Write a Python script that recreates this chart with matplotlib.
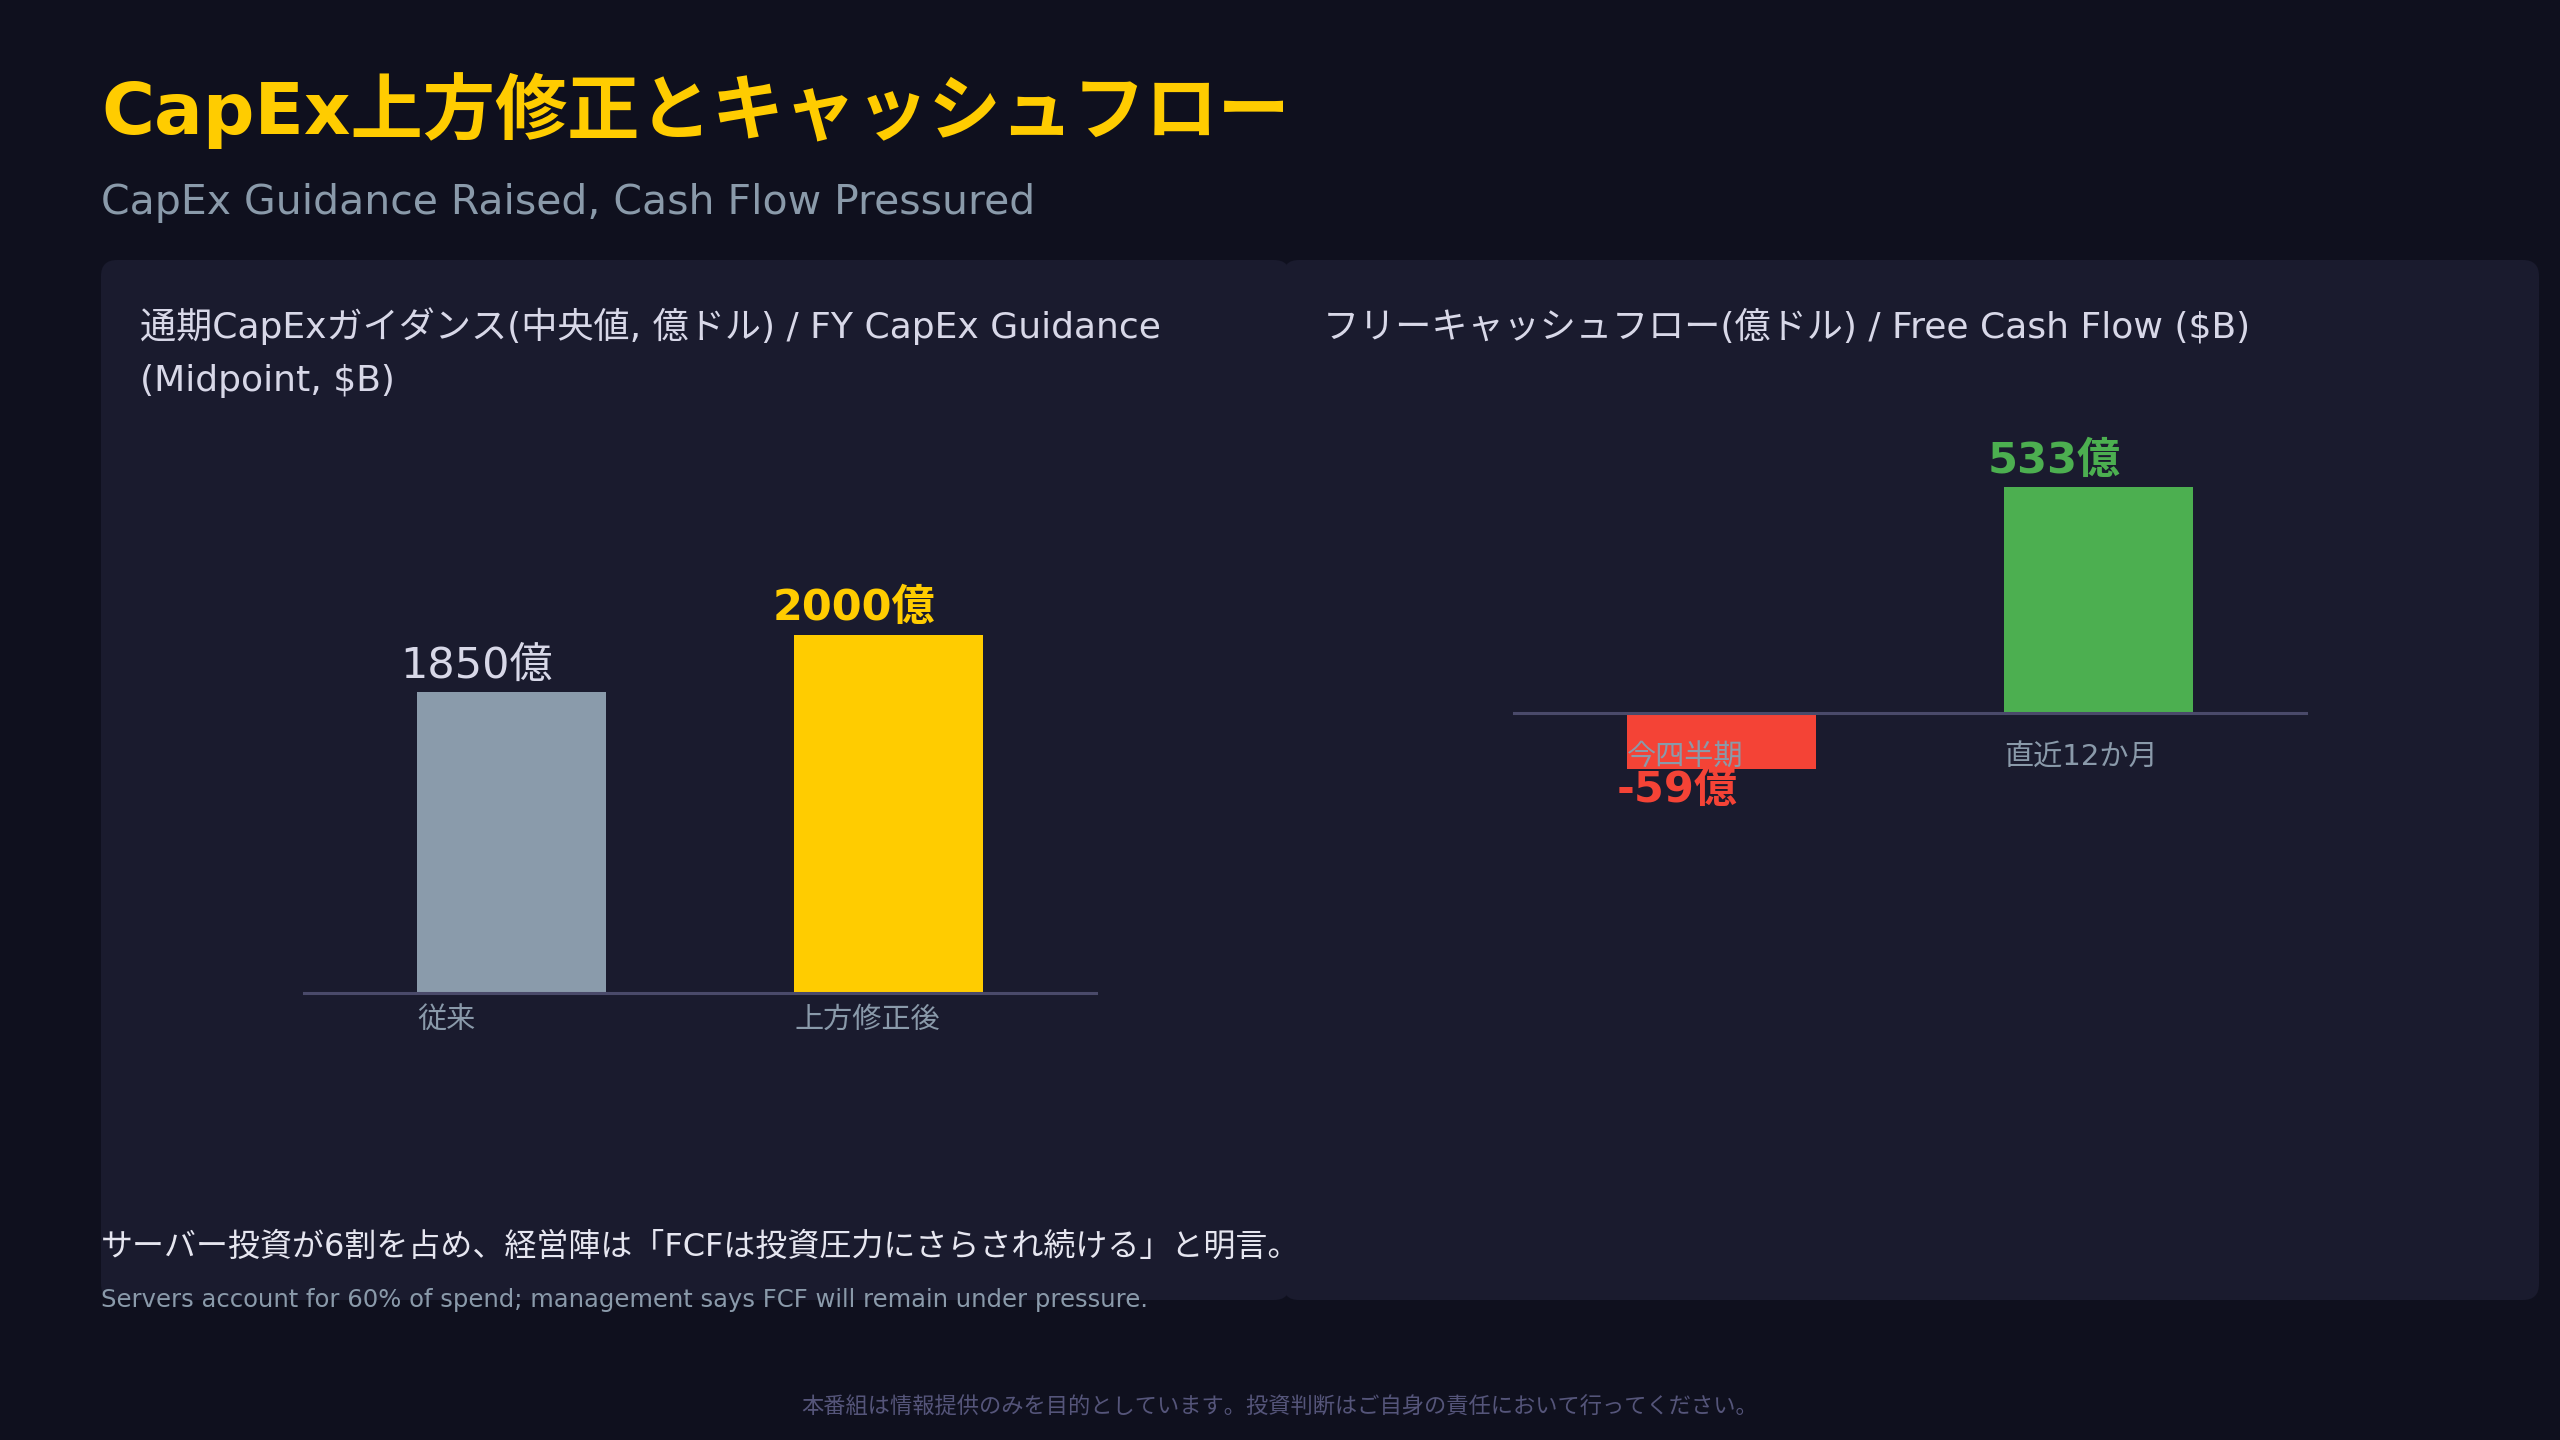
import matplotlib
matplotlib.use('Agg')
import matplotlib.pyplot as plt
from matplotlib.patches import FancyBboxPatch

# Latin glyphs from DejaVu Sans, Japanese from Noto Sans CJK JP
plt.rcParams['font.family'] = ['DejaVu Sans', 'Noto Sans CJK JP']

# === Data ===
capex_labels = ['従来', '上方修正後']
capex_values = [1850, 2000]
capex_text = ['1850億', '2000億']

fcf_labels = ['今四半期', '直近12か月']
fcf_values = [-59, 533]
fcf_text = ['-59億', '533億']

# === Style ===
BG = '#0f101e'
PANEL = '#1a1b2e'
AXIS = '#4a4a6a'
TICK = '#8a9aaa'
LIGHT = '#d8d8e8'
YELLOW = '#ffcc00'
GRAY_BAR = '#8a9bab'
RED = '#f44336'
GREEN = '#4caf50'
W, H = 2560, 1440

fig = plt.figure(figsize=(W / 100, H / 100), dpi=100, facecolor=BG)

# background layer in pixel coordinates (y down)
bg = fig.add_axes([0, 0, 1, 1])
bg.set_xlim(0, W); bg.set_ylim(H, 0); bg.axis('off')

for x0, x1 in [(101, 1290), (1283, 2539)]:
    bg.add_patch(FancyBboxPatch((x0, 260), x1 - x0, 1040,
                                boxstyle='round,pad=0,rounding_size=16',
                                fc=PANEL, ec='none'))

bg.text(101, 111, 'CapEx上方修正とキャッシュフロー', color=YELLOW,
        fontsize=52, fontweight='bold', va='center')
bg.text(101, 203, 'CapEx Guidance Raised, Cash Flow Pressured', color=TICK,
        fontsize=29.5, va='center')

bg.text(140, 307, '通期CapExガイダンス(中央値, 億ドル) / FY CapEx Guidance\n(Midpoint, $B)',
        color=LIGHT, fontsize=26, va='top', linespacing=1.72)
bg.text(1323, 327, 'フリーキャッシュフロー(億ドル) / Free Cash Flow ($B)',
        color=LIGHT, fontsize=26, va='center')

bg.text(101, 1247, 'サーバー投資が6割を占め、経営陣は「FCFは投資圧力にさらされ続ける」と明言。',
        color='#e6e6f0', fontsize=23, va='center')
bg.text(101, 1300, 'Servers account for 60% of spend; management says FCF will remain under pressure.',
        color=TICK, fontsize=17.5, va='center')
bg.text(1280, 1407, '本番組は情報提供のみを目的としています。投資判断はご自身の責任において行ってください。',
        color='#55557a', fontsize=16, ha='center', va='center')


def px_axes(x0, y0, x1, y1):
    ax = fig.add_axes([x0 / W, 1 - y1 / H, (x1 - x0) / W, (y1 - y0) / H])
    ax.set_facecolor('none')
    for s in ['top', 'left', 'right']:
        ax.spines[s].set_visible(False)
    ax.spines['bottom'].set_color(AXIS)
    ax.spines['bottom'].set_linewidth(2.2)
    ax.yaxis.set_visible(False)
    return ax


bar_w = 0.5

# === Left: CapEx guidance ===
ax1 = px_axes(304, 560, 1096, 993)
left1 = [i - bar_w / 2 for i in range(len(capex_values))]
ax1.bar(left1, capex_values, width=bar_w, align='edge', color=[GRAY_BAR, YELLOW])
ax1.set_xlim(-0.55, 1.55)
ax1.set_ylim(1062, 2196)
ax1.set_xticks(left1, capex_labels, ha='left')
ax1.tick_params(axis='x', length=0, pad=9, labelsize=21, labelcolor=TICK)
for x, v, t, c, fw in zip(left1, capex_values, capex_text, [LIGHT, YELLOW], ['normal', 'bold']):
    ax1.annotate(t, (x + bar_w / 2, v), xytext=(-25, 19), textcoords='offset points',
                 ha='center', va='center', fontsize=31, color=c, fontweight=fw)

# === Right: Free cash flow ===
ax2 = px_axes(1514, 420, 2306, 820)
ax2.set_yscale('symlog', linthresh=155, linscale=0.9)
left2 = [i - bar_w / 2 for i in range(len(fcf_values))]
ax2.bar(left2, fcf_values, width=bar_w, align='edge',
        color=[RED if v < 0 else GREEN for v in fcf_values])
ax2.set_xlim(-0.55, 1.55)
ax2.set_ylim(-113, 1521)
ax2.spines['bottom'].set_position(('data', 0))
ax2.set_xticks(left2, fcf_labels, ha='left')
ax2.tick_params(axis='x', length=0, pad=22, labelsize=21, labelcolor=TICK)
for x, v, t in zip(left2, fcf_values, fcf_text):
    dy = 19 if v >= 0 else -15
    ax2.annotate(t, (x + bar_w / 2, v), xytext=(-32, dy), textcoords='offset points',
                 ha='center', va='center', fontsize=31, fontweight='bold',
                 color=GREEN if v >= 0 else RED)

fig.savefig('out.png', dpi=100, facecolor=BG)
